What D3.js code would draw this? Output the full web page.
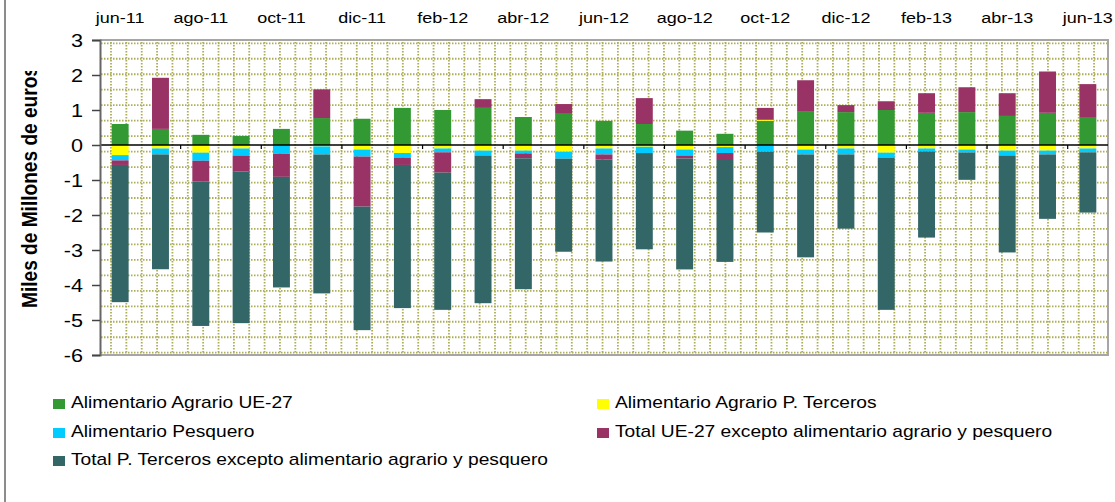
<!DOCTYPE html>
<html lang="es">

<head>
    <meta charset="UTF-8">
    <title>Saldo comercial</title>
</head>
<style>
    body,
    html {
        margin: 0;
        padding: 0;
        background: #fff;
        font-family: Arial, "Liberation Sans", sans-serif;
    }
</style>

<body>
    <svg id="svg" width="1115" height="502"></svg>

    <script src="https://d3js.org/d3.v7.min.js"></script>
    <script>
        // months (x categories)
        const months = ['jun-11', 'jul-11', 'ago-11', 'sep-11', 'oct-11', 'nov-11', 'dic-11',
            'ene-12', 'feb-12', 'mar-12', 'abr-12', 'may-12', 'jun-12', 'jul-12', 'ago-12', 'sep-12',
            'oct-12', 'nov-12', 'dic-12', 'ene-13', 'feb-13', 'mar-13', 'abr-13', 'may-13', 'jun-13'];

        // series, miles de millones de euros
        const agrarioUE = [0.60, 0.46, 0.29, 0.26, 0.46, 0.77, 0.75, 1.06, 1.00, 1.06, 0.80, 0.89, 0.69,
            0.60, 0.41, 0.32, 0.69, 0.97, 0.94, 1.00, 0.92, 0.94, 0.83, 0.92, 0.80];
        const agrarioTerceros = [-0.29, -0.10, -0.22, -0.10, 0, -0.04, -0.13, -0.23, -0.10, -0.16, -0.16, -0.19, -0.10,
            -0.05, -0.13, -0.06, 0.03, -0.13, -0.10, -0.22, -0.10, -0.13, -0.16, -0.16, -0.10];
        const pesquero = [-0.15, -0.17, -0.23, -0.20, -0.25, -0.23, -0.20, -0.13, -0.11, -0.14, -0.08, -0.20, -0.17,
            -0.18, -0.17, -0.17, -0.19, -0.14, -0.17, -0.14, -0.085, -0.085, -0.14, -0.11, -0.11];
        const restoUE = [-0.13, 1.46, -0.59, -0.46, -0.66, 0.82, -1.43, -0.21, -0.58, 0.25, -0.14, 0.28, -0.14,
            0.74, -0.085, -0.17, 0.34, 0.88, 0.20, 0.25, 0.56, 0.71, 0.65, 1.18, 0.94];
        const restoTerceros = [-3.92, -3.28, -4.13, -4.33, -3.16, -3.97, -3.53, -4.09, -3.92, -4.22, -3.74, -2.66, -2.92,
            -2.75, -3.17, -2.94, -2.31, -2.94, -2.12, -4.35, -2.46, -0.78, -2.77, -1.84, -1.72];

        const seriesNames = ['Alimentario Agrario UE-27', 'Alimentario Agrario P. Terceros', 'Alimentario Pesquero',
            'Total UE-27 excepto alimentario agrario y pesquero', 'Total P. Terceros excepto alimentario agrario y pesquero'];
        const seriesValues = [agrarioUE, agrarioTerceros, pesquero, restoUE, restoTerceros];
        const colors = ['#339933', '#ffff00', '#00ccff', '#993366', '#336666'];
        const yTicks = [3, 2, 1, 0, -1, -2, -3, -4, -5, -6];

        // the original picture is stretched horizontally
        const stretch = 'scale(1.2,1)';

        const plot = { left: 100, right: 1108, top: 40, bottom: 355 };

        const rows = months.map((m, i) => {
            const row = { month: m };
            seriesNames.forEach((s, k) => row[s] = seriesValues[k][i]);
            return row;
        });

        const svg = d3.select('#svg');

        // outer frame (left edge only visible)
        svg.append('line')
            .attr('x1', 5).attr('x2', 5).attr('y1', 0).attr('y2', 502)
            .attr('stroke', '#666').attr('stroke-width', 1.5);

        const xscale = d3.scaleBand()
            .domain(months)
            .range([plot.left, plot.right])
            .paddingInner(0.58)
            .paddingOuter(0.29);

        const xedge = d3.scaleLinear()
            .domain([0, months.length])
            .range([plot.left, plot.right]);

        const yscale = d3.scaleLinear()
            .domain([-6, 3])
            .range([plot.bottom, plot.top]);

        // dotted background grid
        const grid = svg.append('g')
            .attr('stroke', '#a0a03c')
            .attr('stroke-width', 1.8)
            .attr('stroke-dasharray', '1.5,1.5')
            .attr('opacity', 0.85);

        grid.selectAll('.gv')
            .data(d3.range(0, 65))
            .join('line')
            .attr('class', 'gv')
            .attr('x1', k => 111 + k * 15.36).attr('x2', k => 111 + k * 15.36)
            .attr('y1', plot.top + 2).attr('y2', plot.bottom - 1);

        grid.selectAll('.gh')
            .data(d3.range(0, 21))
            .join('line')
            .attr('class', 'gh')
            .attr('y1', k => 43.3 + k * 15.47).attr('y2', k => 43.3 + k * 15.47)
            .attr('x1', plot.left + 1).attr('x2', plot.right - 1);

        // plot border
        svg.append('path')
            .attr('d', `M${plot.left},${plot.top}H${plot.right}V${plot.bottom}H${plot.left}`)
            .attr('fill', 'none')
            .attr('stroke', '#a6a6a6')
            .attr('stroke-width', 2);

        // stacked bars
        const stackedData = d3.stack()
            .keys(seriesNames)
            .offset(d3.stackOffsetDiverging)
            (rows);

        svg.append('g')
            .selectAll('g')
            .data(stackedData)
            .join('g')
            .attr('fill', (d, i) => colors[i])
            .selectAll('rect')
            .data(d => d)
            .join('rect')
            .attr('x', d => xscale(d.data.month))
            .attr('y', d => yscale(Math.max(d[0], d[1])))
            .attr('height', d => Math.abs(yscale(d[0]) - yscale(d[1])))
            .attr('width', xscale.bandwidth());

        // zero line with ticks
        const zero = svg.append('g');
        zero.append('line')
            .attr('x1', plot.left).attr('x2', plot.right)
            .attr('y1', yscale(0)).attr('y2', yscale(0))
            .attr('stroke', '#000').attr('stroke-width', 1.5);
        zero.selectAll('.zt')
            .data(d3.range(2, months.length, 2))
            .join('line')
            .attr('class', 'zt')
            .attr('x1', k => xedge(k)).attr('x2', k => xedge(k))
            .attr('y1', yscale(0)).attr('y2', yscale(0) + 4)
            .attr('stroke', '#000').attr('stroke-width', 1.2);

        // month labels on top, every other month
        svg.append('g')
            .selectAll('text')
            .data(months.filter((m, i) => i % 2 === 0))
            .join('text')
            .attr('transform', d => `translate(${xscale(d) + xscale.bandwidth() / 2},23) ${stretch}`)
            .attr('text-anchor', 'middle')
            .style('font-size', '15px')
            .attr('fill', '#000')
            .text(d => d);

        // y axis
        const leftAxis = d3.axisLeft(yscale)
            .tickValues(yTicks)
            .tickSize(8)
            .tickFormat(d => d);

        const yAxis = svg.append('g')
            .attr('transform', `translate(${plot.left}, 0)`)
            .call(leftAxis);
        yAxis.select('.domain').attr('stroke', '#666').attr('stroke-width', 2);
        yAxis.selectAll('.tick line').attr('stroke', '#444').attr('stroke-width', 1.5);
        yAxis.selectAll('.tick text')
            .attr('x', null)
            .attr('dy', null)
            .attr('transform', `translate(-17,6) ${stretch}`)
            .style('font-size', '18px')
            .style('font-family', 'Arial, "Liberation Sans", sans-serif')
            .attr('fill', '#000');

        // y axis title, clipped at the top like the original
        svg.append('clipPath')
            .attr('id', 'titleClip')
            .append('rect')
            .attr('x', 0).attr('y', 71).attr('width', 60).attr('height', 300);

        svg.append('g')
            .attr('clip-path', 'url(#titleClip)')
            .append('text')
            .attr('transform', `translate(37,187) ${stretch} rotate(-90)`)
            .attr('text-anchor', 'middle')
            .attr('textLength', 242)
            .attr('lengthAdjust', 'spacingAndGlyphs')
            .style('font-size', '18px')
            .style('font-weight', 'bold')
            .text('Miles de Millones de euros');

        // legend
        const legendPos = [[53, 408], [597, 408], [53, 437], [597, 437], [53, 465]];
        const legend = svg.selectAll('.legend')
            .data(seriesNames)
            .join('g')
            .attr('class', 'legend')
            .attr('transform', (d, i) => `translate(${legendPos[i][0]}, ${legendPos[i][1]})`);

        legend.append('rect')
            .attr('x', 0)
            .attr('y', -9)
            .attr('width', 12)
            .attr('height', 10)
            .attr('fill', (d, i) => colors[i]);

        legend.append('text')
            .attr('transform', `translate(18,0) ${stretch}`)
            .style('font-size', '16px')
            .text(d => d);
    </script>
</body>

</html>
